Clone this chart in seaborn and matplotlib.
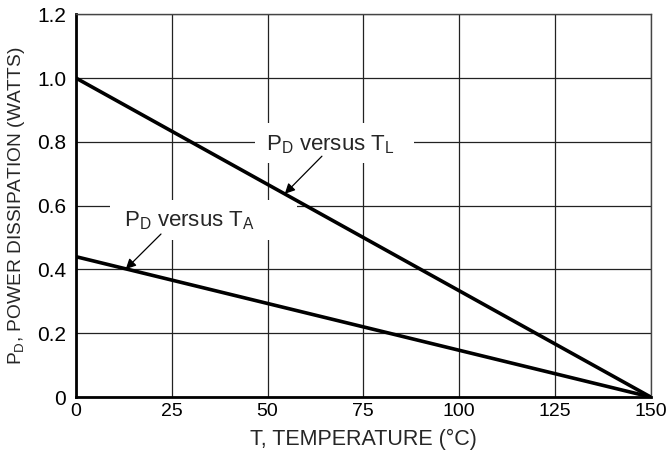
import matplotlib
matplotlib.use("Agg")
import matplotlib.pyplot as plt
from matplotlib.patches import Rectangle
import seaborn as sns
import pandas as pd

# data
temperature = [0, 150]
pd_vs_tl = [1.0, 0.0]
pd_vs_ta = [0.44, 0.0]
x_ticks = [0, 25, 50, 75, 100, 125, 150]
y_ticks = [0, 0.2, 0.4, 0.6, 0.8, 1.0, 1.2]
y_tick_labels = ["0", "0.2", "0.4", "0.6", "0.8", "1.0", "1.2"]

sns.set_style("white")
plt.rcParams["font.family"] = ["Liberation Sans", "DejaVu Sans"]
plt.rcParams["mathtext.fontset"] = "custom"
plt.rcParams["mathtext.rm"] = "Liberation Sans"
plt.rcParams["mathtext.it"] = "Liberation Sans"

df = pd.DataFrame({"T": temperature + temperature,
                   "PD": pd_vs_tl + pd_vs_ta,
                   "curve": ["TL"] * 2 + ["TA"] * 2})

fig = plt.figure(figsize=(6.66, 4.59), dpi=100)
ax = fig.add_axes([0.114, 0.135, 0.863, 0.834])

sns.lineplot(data=df, x="T", y="PD", units="curve", estimator=None,
             color="black", linewidth=2.6, ax=ax, zorder=3)

ax.set_xlim(0, 150)
ax.set_ylim(0, 1.2)
ax.set_xticks(x_ticks)
ax.set_yticks(y_ticks)
ax.set_yticklabels(y_tick_labels)
ax.grid(True, color="#222222", linewidth=0.9)
ax.set_axisbelow(True)
ax.tick_params(axis="both", length=0, colors="black")
ax.tick_params(axis="x", pad=4, labelsize=14)
ax.tick_params(axis="y", pad=7, labelsize=15)

for side in ["top", "right"]:
    ax.spines[side].set_linewidth(1.0)
    ax.spines[side].set_color("#444444")
for side in ["left", "bottom"]:
    ax.spines[side].set_linewidth(2.0)
    ax.spines[side].set_color("black")

ax.set_xlabel("T, TEMPERATURE (°C)", fontsize=15.5, labelpad=7)
ax.set_ylabel(r"P$_\mathrm{D}$, POWER DISSIPATION (WATTS)", fontsize=13.8, labelpad=7)

# white label boxes that break the grid behind the annotations
ax.add_patch(Rectangle((46.7, 0.733), 41.5, 0.125, facecolor="white",
                       edgecolor="none", zorder=1.5))
ax.add_patch(Rectangle((9.0, 0.492), 48.7, 0.125, facecolor="white",
                       edgecolor="none", zorder=1.5))

arrow = dict(arrowstyle="-|>", color="black", lw=0.9, shrinkA=0, shrinkB=0,
             mutation_scale=15)
ax.annotate("", xy=(54.5, 0.637), xytext=(64.2, 0.755), arrowprops=arrow, zorder=4)
ax.annotate("", xy=(13.0, 0.401), xytext=(22.2, 0.511), arrowprops=arrow, zorder=4)
ax.text(66.5, 0.79, r"P$_\mathrm{D}$ versus T$_\mathrm{L}$", ha="center", va="center",
        fontsize=16, zorder=4)
ax.text(29.7, 0.552, r"P$_\mathrm{D}$ versus T$_\mathrm{A}$", ha="center", va="center",
        fontsize=16, zorder=4)

fig.savefig("out.png", dpi=100)
